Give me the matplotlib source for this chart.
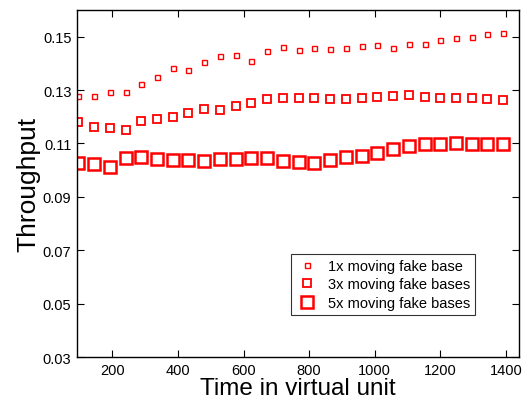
import matplotlib
matplotlib.use("Agg")
import matplotlib.pyplot as plt

plt.rcParams['font.family'] = ['Liberation Sans', 'DejaVu Sans']

time = [96 + 48 * i for i in range(28)]

one_base = [0.1276, 0.1276, 0.1292, 0.1291, 0.1322, 0.1348, 0.1382, 0.1374,
            0.1404, 0.1426, 0.1431, 0.1408, 0.1446, 0.1460, 0.1451, 0.1458,
            0.1453, 0.1459, 0.1465, 0.1469, 0.1459, 0.1471, 0.1474, 0.1489,
            0.1494, 0.1500, 0.1511, 0.1514]

three_bases = [0.1181, 0.1160, 0.1157, 0.1152, 0.1186, 0.1192, 0.1200, 0.1214,
               0.1228, 0.1226, 0.1242, 0.1252, 0.1268, 0.1271, 0.1272, 0.1269,
               0.1268, 0.1268, 0.1272, 0.1274, 0.1276, 0.1280, 0.1275, 0.1271,
               0.1271, 0.1270, 0.1266, 0.1264]

five_bases = [0.1025, 0.1022, 0.1013, 0.1044, 0.1049, 0.1042, 0.1039, 0.1039,
              0.1035, 0.1043, 0.1043, 0.1047, 0.1044, 0.1033, 0.1030, 0.1028,
              0.1039, 0.1050, 0.1053, 0.1063, 0.1079, 0.1091, 0.1098, 0.1099,
              0.1102, 0.1098, 0.1099, 0.1099]

labels = ["1x moving fake base", "3x moving fake bases", "5x moving fake bases"]
x_ticks = [200, 400, 600, 800, 1000, 1200, 1400]
y_ticks = [0.03, 0.05, 0.07, 0.09, 0.11, 0.13, 0.15]

fig = plt.figure(figsize=(5.28, 4.10), dpi=100)
ax = fig.add_axes([0.1458, 0.1268, 0.8371, 0.8464])

ax.plot(time, one_base, linestyle='none', marker='s', markersize=3.6,
        markerfacecolor='none', markeredgecolor='red', markeredgewidth=1.0,
        label=labels[0])
ax.plot(time, three_bases, linestyle='none', marker='s', markersize=6.2,
        markerfacecolor='none', markeredgecolor='red', markeredgewidth=1.3,
        label=labels[1])
ax.plot(time, five_bases, linestyle='none', marker='s', markersize=9.0,
        markerfacecolor='none', markeredgecolor='red', markeredgewidth=1.8,
        label=labels[2])

ax.set_xlim(92, 1440)
ax.set_ylim(0.03, 0.16)
ax.set_xticks(x_ticks)
ax.set_yticks(y_ticks)
ax.set_yticklabels([f"{v:.2f}" for v in y_ticks])
ax.tick_params(direction='in', top=True, right=True, length=5, width=0.8,
               labelsize=10.5, pad=4)
for s in ax.spines.values():
    s.set_linewidth(1.0)

ax.set_xlabel("Time in virtual unit", fontsize=17.5, labelpad=0)
ax.set_ylabel("Throughput", fontsize=19, labelpad=2)

leg = ax.legend(loc='upper right', bbox_to_anchor=(0.901, 0.297),
                fontsize=10.5, frameon=True, fancybox=False,
                edgecolor='black', borderaxespad=0, handletextpad=0.6,
                borderpad=0.35, labelspacing=0.3, handlelength=1.6)
leg.get_frame().set_linewidth(0.8)

fig.savefig("out.png", dpi=100)
